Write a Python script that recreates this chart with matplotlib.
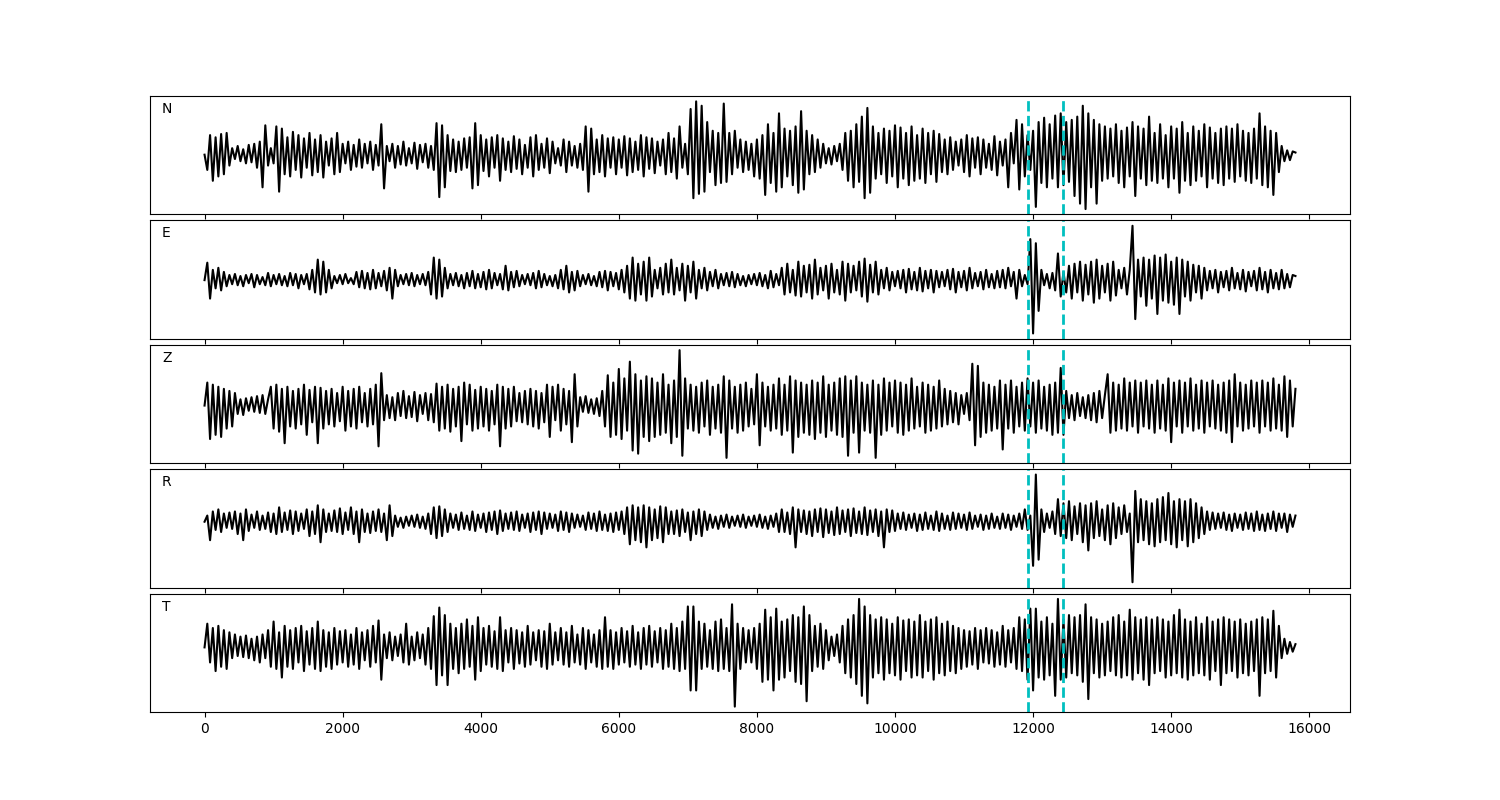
import numpy as np
import matplotlib
matplotlib.use("Agg")
import matplotlib.pyplot as plt

# sample spacing of the traces
dt = 40

# two picked arrivals
picks = [11925, 12432]

channels = ['N', 'E', 'Z', 'R', 'T']

n_trace = [
    0, -14, 18, -24, 16, -20, 19, -18, 20, -10,
    6, -4, 8, -6, 5, -8, 9, -7, 10, -12,
    12, -30, 27, -10, 6, -8, 26, -34, 24, -18,
    16, -20, 21, -14, 18, -21, 15, -12, 20, -19,
    14, -16, 18, -21, 12, -10, 15, -18, 20, -16,
    10, -8, 12, -14, 9, -11, 14, -12, 10, -8,
    12, -14, 9, -10, 28, -31, 8, -6, 10, -12,
    8, -9, 12, -10, 6, -8, 11, -13, 9, -7,
    10, -12, 8, -14, 29, -39, 27, -30, 18, -15,
    14, -16, 12, -14, 15, -12, 16, -31, 29, -28,
    18, -15, 14, -20, 16, -12, 18, -24, 15, -14,
    12, -16, 17, -13, 14, -18, 9, -12, 16, -20,
    18, -14, 10, -12, 15, -17, 12, -8, 6, -10,
    14, -16, 12, -10, 8, -12, 10, -14, 26, -34,
    24, -18, 14, -16, 18, -20, 15, -12, 16, -18,
    14, -12, 17, -19, 15, -16, 12, -14, 18, -20,
    16, -13, 15, -17, 12, -10, 14, -18, 20, -16,
    15, -22, 26, -12, 10, -18, 42, -40, 49, -36,
    45, -34, 30, -16, 22, -28, 20, -26, 47, -25,
    20, -18, 22, -12, 14, -16, 12, -14, 10, -20,
    14, -22, 18, -37, 28, -26, 20, -34, 38, -30,
    24, -20, 22, -28, 26, -35, 40, -32, 22, -18,
    18, -16, 14, -12, 10, -8, 6, -9, 8, -6,
    10, -14, 20, -24, 22, -30, 28, -25, 35, -40,
    43, -35, 26, -22, 20, -18, 24, -26, 22, -20,
    27, -30, 25, -22, 20, -28, 26, -24, 18, -22,
    24, -26, 20, -18, 22, -25, 19, -16, 14, -18,
    16, -14, 12, -10, 14, -16, 18, -20, 15, -12,
    16, -18, 14, -12, 10, -14, 17, -19, 12, -10,
    14, -30, 20, -8, 32, -32, 28, -20, 18, -14,
    22, -48, 30, -26, 34, -30, 28, -22, 36, -30,
    38, -28, 30, -25, 32, -38, 35, -45, 45, -50,
    38, -30, 32, -45, 28, -24, 26, -22, 24, -20,
    28, -26, 22, -30, 25, -20, 30, -38, 26, -22,
    24, -28, 35, -24, 20, -26, 28, -22, 18, -30,
    26, -22, 24, -35, 30, -24, 20, -28, 26, -24,
    22, -20, 28, -30, 25, -22, 20, -26, 24, -28,
    26, -22, 24, -25, 28, -20, 22, -24, 20, -26,
    24, -22, 38, -28, 26, -30, 22, -37, 20, -16,
    8, -6, 4, -5, 3, 2,
]

e_trace = [
    0, 17, -18, 10, -8, 12, -10, 8, -6, 5,
    -4, 6, -5, 4, -6, 5, -3, 6, -7, 5,
    -4, 3, -5, 7, -6, 5, -4, 6, -5, 4,
    -6, 7, -5, 6, -8, 5, -4, 6, -9, 10,
    -12, 20, -14, 18, -12, 10, -8, 4, -3, 5,
    -4, 6, -3, 2, -4, 8, -7, 9, -8, 7,
    -9, 10, -8, 7, -6, 9, -10, 12, -18, 10,
    -6, 5, -4, 6, -5, 7, -6, 5, -4, 6,
    -5, 8, -14, 22, -18, 20, -16, 12, -8, 6,
    -5, 7, -6, 5, -8, 7, -6, 9, -8, 6,
    -7, 8, -9, 10, -8, 7, -5, 6, -9, 14,
    -10, 8, -7, 9, -6, 5, -4, 6, -5, 7,
    -8, 9, -7, 6, -5, 4, -6, 5, -8, 10,
    -9, 14, -12, 8, -10, 9, -6, 5, -4, 6,
    -5, 4, -6, 8, -7, 9, -10, 8, -6, 7,
    -9, 10, -12, 14, -18, 22, -20, 16, -14, 18,
    -20, 22, -16, 10, -8, 12, -14, 16, -12, 20,
    -14, 12, -10, 16, -20, 14, -12, 18, -18, 10,
    -8, 12, -10, 8, -6, 10, -8, 6, -5, 7,
    -6, 8, -7, 6, -5, 4, -6, 5, -4, 6,
    -5, 7, -6, 5, -8, 9, -7, 6, -5, 12,
    -14, 16, -12, 10, -15, 18, -16, 14, -12, 15,
    -18, 20, -14, 12, -10, 14, -18, 16, -12, 10,
    -14, 18, -20, 16, -12, 14, -10, 18, -16, 21,
    -21, 15, -12, 18, -14, 10, -8, 12, -10, 8,
    -6, 9, -8, 10, -12, 11, -9, 8, -10, 12,
    -11, 9, -8, 10, -12, 9, -7, 8, -6, 10,
    -9, 11, -12, 8, -7, 9, -10, 12, -8, 7,
    -6, 8, -9, 10, -7, 6, -8, 9, -7, 10,
    -8, 12, -6, 8, -18, 10, -6, 5, -4, 40,
    -52, 36, -30, 10, -5, 6, -8, 7, -10, 26,
    -16, 8, -12, 14, -18, 16, -12, 18, -20, 15,
    -14, 18, -22, 20, -18, 14, -12, 16, -20, 18,
    -15, 10, -8, 12, -14, 10, 53, -38, 20, -16,
    22, -25, 20, -18, 24, -33, 22, -20, 25, -22,
    18, -24, 22, -33, 20, -16, 18, -20, 15, -12,
    14, -18, 12, -10, 9, -8, 10, -12, 8, -7,
    9, -10, 12, -8, 7, -9, 10, -11, 8, -6,
    9, -10, 12, -9, 8, -12, 10, -8, 7, -9,
    10, -8, 6, -7, 5, 4,
]

z_trace = [
    0, 22, -32, 20, -28, 18, -30, 16, -22, 14,
    -20, 12, -8, 6, -9, 7, -5, 8, -6, 9,
    -7, 10, -8, 6, 18, -22, 20, -25, 16, -36,
    18, -20, 14, -22, 16, -18, 20, -28, 15, -16,
    18, -36, 17, -22, 14, -18, 16, -20, 12, -15,
    18, -24, 14, -20, 16, -22, 18, -16, 12, -20,
    16, -18, 20, -39, 31, -14, 10, -12, 8, -14,
    12, -10, 14, -12, 9, -11, 13, -15, 10, -8,
    12, -14, 11, -16, 21, -24, 18, -22, 20, -25,
    16, -20, 18, -34, 22, -18, 20, -24, 15, -22,
    18, -20, 16, -24, 14, -18, 20, -39, 18, -22,
    16, -20, 18, -15, 12, -16, 14, -18, 16, -20,
    14, -22, 12, -16, 20, -30, 18, -14, 20, -24,
    16, -18, 14, -35, 30, -20, 8, -6, 9, -7,
    6, -8, 7, -10, 14, -20, 29, -30, 22, -28,
    35, -32, 26, -24, 42, -43, 30, -46, 24, -30,
    28, -34, 26, -30, 22, -28, 30, -26, 20, -36,
    24, -30, 53, -48, 26, -22, 20, -24, 18, -26,
    22, -20, 24, -28, 18, -22, 20, -26, 28, -50,
    24, -22, 18, -26, 20, -24, 22, -20, 16, -18,
    30, -38, 22, -20, 18, -24, 20, -22, 26, -28,
    20, -24, 28, -45, 24, -30, 22, -26, 20, -28,
    24, -32, 22, -26, 28, -30, 20, -24, 22, -28,
    26, -30, 28, -48, 24, -26, 28, -45, 22, -24,
    20, -26, 24, -50, 20, -28, 26, -24, 22, -20,
    24, -26, 22, -28, 20, -24, 26, -22, 18, -20,
    22, -26, 20, -24, 18, -22, 24, -20, 16, -18,
    14, -16, 12, -18, 10, -8, 12, -14, 40, -38,
    38, -30, 22, -26, 20, -24, 18, -22, 24, -42,
    20, -22, 24, -26, 18, -20, 22, -24, 26, -20,
    22, -26, 24, -22, 18, -24, 20, -28, 22, -26,
    36, -28, 14, -12, 10, -14, 12, -10, 8, -12,
    10, -14, 12, -16, 14, -12, 10, 30, -26, 22,
    -24, 20, -22, 26, -24, 22, -20, 24, -26, 22,
    -20, 24, -22, 20, -26, 24, -22, 20, -24, 26,
    -35, 22, -20, 24, -26, 22, -20, 26, -24, 20,
    -22, 24, -26, 22, -20, 24, -22, 20, -24, 22,
    -26, 24, -35, 30, -20, 22, -24, 20, -22, 24,
    -20, 22, -26, 24, -20, 22, -24, 26, -22, 20,
    -24, 28, -30, 24, -20, 16,
]

r_trace = [
    0, 6, -18, 10, -8, 12, -10, 8, -6, 9,
    -7, 10, -12, 8, -18, 12, -9, 7, -6, 10,
    -8, 6, -7, 9, -10, 8, -12, 14, -10, 9,
    -8, 11, -12, 10, -9, 8, -7, 12, -14, 10,
    -12, 16, -20, 12, -10, 8, -9, 11, -10, 13,
    -12, 9, -8, 14, -12, 10, -20, 12, -10, 8,
    -11, 10, -9, 12, -10, 8, -18, 16, -14, 6,
    -5, 4, -6, 5, -4, 6, -5, 7, -6, 5,
    -7, 8, -12, 14, -16, 15, -14, 12, -10, 8,
    -6, 7, -8, 9, -7, 6, -8, 10, -9, 7,
    -6, 8, -10, 9, -8, 10, -12, 11, -9, 8,
    -7, 9, -8, 10, -9, 7, -6, 8, -10, 9,
    -8, 10, -12, 9, -7, 8, -6, 7, -9, 10,
    -8, 9, -10, 8, -6, 7, -5, 6, -8, 9,
    -7, 8, -9, 10, -8, 7, -9, 8, -10, 9,
    -8, 10, -12, 14, -22, 16, -18, 14, -20, 16,
    -25, 14, -18, 12, -16, 15, -20, 14, -12, 10,
    -12, 11, -14, 12, -10, 9, -18, 10, -12, 12,
    -14, 10, -8, 7, -6, 5, -7, 6, -5, 7,
    -6, 5, -4, 6, -5, 7, -6, 5, -4, 6,
    -5, 7, -6, 5, -7, 6, -5, 8, -10, 12,
    -10, 9, -12, 14, -25, 12, -10, 11, -12, 10,
    -14, 12, -10, 13, -15, 12, -11, 10, -13, 14,
    -12, 11, -10, 12, -14, 13, -11, 10, -12, 14,
    -13, 11, -10, 12, -14, 10, -25, 12, -10, 11,
    -9, 8, -7, 9, -8, 7, -6, 8, -9, 7,
    -8, 9, -7, 6, -8, 10, -9, 8, -7, 6,
    -8, 9, -7, 8, -6, 7, -8, 9, -7, 6,
    -5, 7, -8, 6, -7, 8, -6, 5, -7, 8,
    -6, 7, -8, 6, -5, 8, -7, 12, -8, 6,
    -43, 46, -37, 12, -10, 8, -6, 10, -12, 22,
    -14, 18, -16, 20, -18, 15, -12, 18, -20, 16,
    -28, 18, -16, 20, -14, 12, -18, 16, -22, 18,
    -16, 14, -12, 16, -10, 8, -59, 30, -20, 22,
    -18, 20, -22, 18, -24, 22, -20, 24, -18, 28,
    -22, 20, -25, 22, -18, 20, -24, 22, -20, 18,
    -16, 14, -12, 10, -8, 9, -7, 8, -6, 9,
    -8, 7, -9, 8, -6, 7, -8, 9, -7, 8,
    -9, 10, -8, 7, -9, 8, -7, 10, -9, 8,
    -6, 8, -10, 7, -5, 6,
]

t_trace = [
    0, 22, -14, 18, -22, 20, -18, 16, -20, 14,
    -10, 12, -8, 10, -9, 11, -10, 8, -12, 10,
    -14, 12, -10, 16, -18, 24, -20, 14, -28, 20,
    -18, 16, -20, 18, -14, 20, -22, 15, -16, 18,
    -20, 24, -22, 16, -18, 14, -20, 18, -16, 15,
    -14, 16, -18, 12, -16, 18, -20, 14, -12, 16,
    -18, 20, -14, 25, -30, 12, -10, 14, -12, 10,
    -8, 12, -14, 22, -16, 10, -12, 14, -10, 12,
    -16, 18, -20, 29, -35, 37, -26, 30, -35, 22,
    -20, 18, -24, 22, -20, 26, -18, 20, -30, 28,
    -22, 18, -16, 20, -18, 15, -20, 28, -22, 16,
    -14, 18, -20, 16, -15, 14, -18, 20, -16, 14,
    -12, 16, -18, 15, -20, 22, -16, 14, -12, 18,
    -16, 14, -18, 20, -14, 12, -16, 18, -20, 16,
    -14, 12, -18, 16, -20, 28, -18, 16, -20, 14,
    -16, 18, -14, 15, -18, 20, -16, 14, -20, 18,
    -16, 20, -18, 15, -14, 18, -20, 16, -18, 22,
    -20, 18, -22, 24, -20, 38, -40, 38, -40, 24,
    -20, 22, -18, 16, -20, 24, -22, 26, -20, 18,
    -22, 40, -55, 22, -20, 18, -14, 16, -14, 18,
    -20, 22, -32, 35, -30, 28, -40, 36, -30, 24,
    -28, 26, -22, 30, -32, 28, -34, 38, -50, 30,
    -22, 20, -18, 22, -20, 16, -12, 10, -8, 12,
    -14, 20, -24, 26, -28, 30, -34, 45, -45, 38,
    -52, 30, -28, 26, -24, 28, -30, 26, -24, 22,
    -26, 28, -30, 25, -22, 26, -28, 24, -26, 30,
    -28, 24, -22, 26, -30, 28, -24, 22, -26, 24,
    -22, 20, -24, 18, -20, 16, -18, 15, -16, 18,
    -20, 16, -14, 18, -15, 16, -18, 14, -16, 20,
    -18, 16, -14, 18, -20, 28, -22, 26, -30, 36,
    -40, 36, -28, 24, -30, 28, -26, 22, -45, 45,
    -30, 26, -28, 30, -24, 28, -26, 30, -32, 40,
    -48, 28, -24, 26, -28, 22, -26, 24, -22, 28,
    -26, 30, -28, 24, -26, 35, -30, 28, -24, 26,
    -30, 28, -35, 26, -24, 28, -22, 26, -28, 24,
    -26, 30, -24, 35, -28, 26, -30, 24, -26, 28,
    -24, 22, -26, 28, -30, 24, -22, 26, -35, 28,
    -24, 26, -22, 24, -28, 26, -24, 22, -26, 24,
    -22, 26, -45, 28, -24, 26, -22, 34, -28, 20,
    -10, 8, -6, 5, -4, 3,
]

traces = [n_trace, e_trace, z_trace, r_trace, t_trace]

fig, axes = plt.subplots(5, 1, sharex=True, figsize=(15, 8), dpi=100)
fig.subplots_adjust(left=0.1, right=0.9, top=0.88, bottom=0.11, hspace=0.05)

for ax, name, tr in zip(axes, channels, traces):
    y = np.array(tr, dtype=float)
    t = np.arange(len(y)) * dt
    ax.plot(t, y, c='k', lw=1.5)
    for p in picks:
        ax.axvline(p, c='c', ls='--', lw=2)
    ax.set_yticks([])
    ax.text(0.01, 0.89, name, transform=ax.transAxes, va='center', ha='left', fontsize=10)

plt.savefig('out.png')
plt.close()
